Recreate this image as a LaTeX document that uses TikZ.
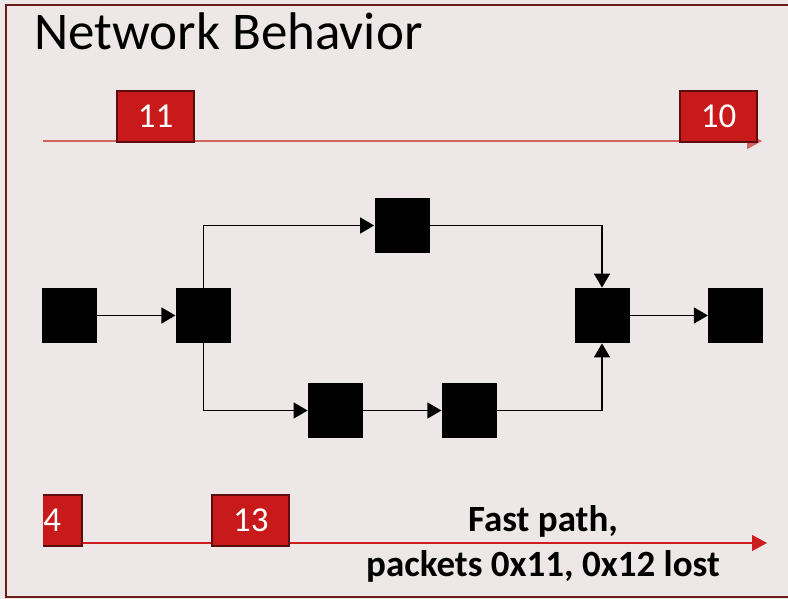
\documentclass[tikz,border=0pt]{standalone}
\usepackage{fontspec}
\setmainfont{Carlito}
\usepackage{xcolor}
\usepackage{tikz}
\usetikzlibrary{arrows.meta,positioning}

\definecolor{slidebg}{RGB}{237,231,231}
\definecolor{framered}{RGB}{107,28,28}
\definecolor{pktred}{RGB}{200,26,26}
\definecolor{pktedge}{RGB}{92,13,13}
\definecolor{wirered}{RGB}{204,32,32}
\definecolor{wirepink}{RGB}{214,96,96}

\tikzset{
switch/.style={rectangle,fill=black,minimum width=27.5pt,minimum height=27.5pt,inner sep=0pt},
packet/.style={rectangle,fill=pktred,draw=pktedge,line width=1pt,text=white,minimum width=38.5pt,minimum height=25.5pt,inner sep=0pt,font=\fontsize{17.5}{21}\selectfont},
link/.style={draw=black,line width=0.75pt,-{Triangle[length=7pt,width=8pt]}},
wire/.style={line width=0.6pt,-{Triangle[length=7.5pt,width=8pt]}}
}

\begin{document}
\begin{tikzpicture}[x=0.5pt,y=-0.5pt,node distance=39pt]
\useasboundingbox (0,0) rectangle (788,599);
\fill[slidebg] (0,0) rectangle (788,599);
\draw[framered,line width=1pt] (6,5) rectangle (800,597);
\node[anchor=base west,inner sep=0pt,font=\fontsize{26.5}{32}\selectfont] (title) at (34,50) {Network Behavior};
% packets on the slow path
\coordinate (topstart) at (43,141);
\coordinate (topend) at (762,141);
\draw[wire,wirepink] (topstart) -- (topend);
\node[packet] (p11) at (155.5,116.5) {11};
\node[packet] (p10) at (718.5,116.5) {10};
% packets on the fast path
\coordinate (botstart) at (43,543);
\coordinate (botend) at (767,543);
\draw[wire,wirered] (botstart) -- (botend);
\begin{scope}
\clip (43,480) rectangle (120,560);
\node[packet] (p4) at (43.5,520.5) {\phantom{1}4};
\end{scope}
\node[packet] (p13) at (250.75,520.5) {13};
\node[anchor=north,inner sep=0pt,align=center,font=\bfseries\fontsize{18.5}{22.5}\selectfont] (note) at (543,505) {Fast path,\\packets 0x11, 0x12 lost};
% switches
\node[switch] (s1) at (69.5,315.5) {};
\node[switch] (s2) [right=of s1] {};
\node[switch] (s3) at (402,225.5) {};
\node[switch] (s4) at (335.5,410.5) {};
\node[switch] (s5) [right=of s4] {};
\node[switch] (s6) at (602,315.5) {};
\node[switch] (s7) [right=of s6] {};
\draw[link] (s1) -- (s2);
\draw[link] (s2) |- (s3);
\draw[link] (s3) -| (s6);
\draw[link] (s2) |- (s4);
\draw[link] (s4) -- (s5);
\draw[link] (s5) -| (s6);
\draw[link] (s6) -- (s7);
\end{tikzpicture}
\end{document}
